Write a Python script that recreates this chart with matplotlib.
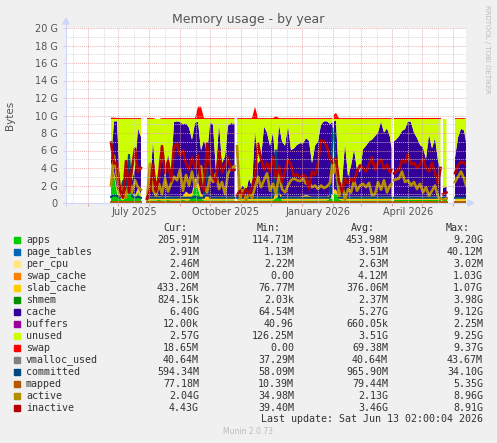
import datetime as dt

import matplotlib
matplotlib.use("Agg")
import matplotlib.pyplot as plt
from matplotlib.patches import Rectangle, Polygon
from matplotlib.lines import Line2D
import numpy as np

nan = np.nan

# x = days since 10 May 2025 (one pixel per day in the munin graph)
# a nan row marks a hole in the data
days = [45, 48, 51, 54, 57, 60, 63, 66, 69, 72, 75, 76,
        81, 84, 87, 90, 93, 96, 99, 102, 105, 108, 111, 114, 117, 120, 123, 126, 129, 132,
        135, 138, 141, 144, 147, 150, 153, 156, 159, 162, 165, 168.5, 169,
        171, 174, 177, 180, 183, 186, 189, 192, 195, 198, 201, 204, 207, 210, 213, 216, 219,
        222, 225, 228, 231, 234, 237, 240, 243, 246, 249, 252, 255, 258, 261, 264, 266.5, 267,
        268, 270, 273, 276, 279, 282, 285, 288, 291, 294, 297, 300, 303, 306, 309, 312, 315,
        318, 321, 324, 325.5, 326,
        328, 330, 333, 336, 339, 342, 345, 348, 351, 354, 357, 360, 363, 366, 369, 372, 374.5, 375,
        377, 380.5, 381,
        389, 392, 395, 398, 400]

# values in GiB
apps = [4.2, 3.2, 1.2, 0.5, 0.3, 0.7, 1.9, 0.8, 0.4, 1.3, 0.6, nan,
        0.25, 0.3, 0.3, 0.3, 0.35, 0.3, 0.3, 0.35, 0.3, 0.3, 0.3, 0.3, 0.35, 0.3, 0.3, 0.7, 2.4, 1.6,
        0.5, 0.3, 0.3, 0.3, 0.3, 0.3, 0.3, 0.3, 0.3, 0.3, 0.3, 0.3, nan,
        0.25, 0.3, 0.3, 0.3, 0.3, 0.3, 0.3, 0.3, 0.3, 0.3, 0.3, 0.3, 0.3, 0.6, 0.8, 0.3, 0.3,
        0.3, 0.3, 0.3, 0.3, 0.3, 0.3, 0.3, 0.3, 0.3, 0.3, 0.3, 0.3, 0.3, 0.3, 0.5, 0.5, nan,
        1.1, 1.1, 0.4, 0.3, 0.3, 0.3, 0.3, 0.3, 0.3, 0.3, 0.3, 0.3, 0.3, 0.3, 0.3, 0.3, 0.3,
        0.3, 0.3, 0.3, 0.3, nan,
        0.3, 0.3, 0.3, 0.3, 0.3, 0.3, 0.3, 0.3, 0.3, 0.3, 0.3, 0.3, 0.3, 0.3, 0.3, 0.3, 0.3, nan,
        0.3, 0.3, nan,
        0.25, 0.25, 0.25, 0.25, 0.2]

slab_cache = [0.40, 0.42, 0.43, 0.43, 0.43, 0.43, 0.43, 0.43, 0.43, 0.43, 0.43, nan,
              0.43, 0.43, 0.43, 0.43, 0.43, 0.43, 0.43, 0.43, 0.43, 0.43, 0.43, 0.43, 0.45, 1.0, 0.7, 0.43, 0.43, 0.9,
              0.6, 0.43, 0.43, 0.43, 0.43, 0.43, 0.43, 0.43, 0.43, 0.43, 0.43, 0.43, nan,
              0.43, 0.43, 0.43, 0.43, 0.43, 0.43, 0.43, 0.43, 0.43, 0.43, 0.43, 0.43, 0.43, 0.43, 0.43, 0.43, 0.43,
              0.43, 0.43, 0.43, 0.43, 0.43, 0.5, 0.6, 0.5, 0.43, 0.43, 0.43, 0.43, 0.43, 0.43, 0.43, 0.43, nan,
              0.43, 0.43, 0.43, 0.43, 0.43, 0.43, 0.43, 0.43, 0.43, 0.43, 0.43, 0.43, 0.43, 0.43, 0.43, 0.43, 0.43,
              0.43, 0.43, 0.43, 0.43, nan,
              0.43, 0.43, 0.43, 0.43, 0.43, 0.43, 0.43, 0.43, 0.43, 0.43, 0.43, 0.43, 0.43, 0.43, 0.43, 0.43, 0.43, nan,
              0.43, 0.43, nan,
              0.43, 0.43, 0.43, 0.43, 0.43]

cache = [0.4, 5.7, 7.7, 1.1, 0.8, 1.9, 2.9, 1.3, 3.2, 6.8, 6.5, nan,
         0.5, 1.1, 6.5, 1.3, 1.8, 4.7, 2.1, 4.9, 2.8, 8.5, 8.6, 8.5, 8.2, 7.8, 7.6, 6.1, 6.3, 6.8,
         4.9, 6.5, 4.8, 8.4, 8.3, 2.8, 8.4, 3.8, 4.6, 8.1, 8.4, 8.3, nan,
         0.3, 0.8, 1.3, 0.5, 2.1, 1.1, 7.6, 3.8, 4.3, 8.0, 7.3, 5.8, 7.3, 3.2, 7.7, 6.3, 5.8,
         8.1, 5.3, 5.5, 5.9, 6.1, 6.0, 6.5, 6.3, 3.8, 5.8, 6.3, 8.2, 8.6, 8.6, 8.1, 8.3, nan,
         7.8, 7.9, 1.7, 1.5, 6.1, 2.3, 3.5, 5.4, 3.1, 2.8, 5.4, 5.8, 6.3, 6.5, 6.9, 7.3, 8.6,
         7.3, 7.8, 6.8, 5.5, nan,
         6.3, 6.5, 6.9, 7.5, 7.7, 8.6, 8.5, 7.3, 6.7, 5.9, 5.6, 4.3, 7.1, 5.5, 6.7, 4.1, 3.0, nan,
         1.0, 1.1, nan,
         4.5, 6.8, 7.8, 7.6, 6.4]

swap = [0.15, 0.15, 0.12, 0.1, 0.1, 0.1, 0.1, 0.1, 0.1, 0.1, 0.1, nan,
        0.1, 0.1, 0.1, 0.0, 0.0, 0.1, 0.1, 0.1, 0.1, 0.1, 0.1, 0.1, 0.1, 0.1, 0.1, 0.1, 0.1, 1.4,
        1.4, 0.1, 0.1, 0.1, 0.1, 0.1, 0.1, 0.1, 0.1, 0.1, 0.1, 0.1, nan,
        0.1, 0.1, 0.1, 0.1, 0.1, 0.1, 1.4, 0.1, 0.1, 0.1, 0.1, 0.1, 0.1, 0.3, 0.1, 0.1, 0.1,
        0.1, 0.1, 0.1, 0.1, 0.1, 0.1, 0.1, 0.1, 0.1, 0.1, 0.1, 0.1, 0.1, 0.1, 0.1, 0.1, nan,
        0.5, 0.7, 0.1, 0.1, 0.1, 0.1, 0.1, 0.1, 0.1, 0.1, 0.1, 0.1, 0.1, 0.1, 0.1, 0.1, 0.1,
        0.1, 0.1, 0.1, 0.1, nan,
        0.1, 0.1, 0.1, 0.1, 0.1, 0.1, 0.1, 0.1, 0.1, 0.1, 0.1, 0.1, 0.1, 0.1, 0.1, 0.1, 0.1, nan,
        0.0, 0.0, nan,
        0.1, 0.1, 0.1, 0.1, 0.05]

committed = [0.7, 0.9, 0.8, 0.6, 2.5, 1.2, 5.5, 0.8, 0.6, 0.7, 0.6, nan,
             0.5, 0.6, 0.6, 0.6, 0.6, 0.6, 0.6, 0.6, 0.6, 0.6, 0.6, 0.6, 0.6, 0.6, 0.6, 0.6, 0.7, 0.6,
             0.6, 0.6, 4.0, 0.6, 0.6, 0.6, 0.6, 0.6, 0.6, 0.6, 0.6, 0.6, nan,
             0.6, 0.6, 0.6, 0.6, 0.6, 0.6, 0.6, 0.6, 0.6, 0.6, 0.6, 0.6, 0.6, 6.0, 0.6, 0.6, 0.6,
             0.6, 0.6, 0.6, 0.6, 0.6, 0.6, 0.6, 0.6, 0.6, 0.6, 0.6, 0.6, 0.6, 0.6, 0.6, 8.5, nan,
             8.0, 3.0, 0.6, 0.6, 0.6, 0.6, 0.6, 0.6, 0.6, 0.6, 0.6, 0.6, 0.6, 0.6, 0.6, 0.6, 0.6,
             0.6, 0.6, 0.6, 0.6, nan,
             0.6, 0.6, 0.6, 0.6, 0.6, 0.6, 0.6, 0.6, 0.6, 0.6, 0.6, 0.6, 0.6, 0.6, 0.6, 0.6, 0.6, nan,
             0.6, 0.6, nan,
             0.6, 0.6, 0.6, 0.6, 0.6]

inactive = [6.9, 4.5, 4.6, 1.5, 0.6, 4.8, 1.2, 4.0, 6.2, 3.5, 4.0, nan,
            0.5, 1.5, 4.4, 1.3, 3.2, 6.5, 3.4, 4.8, 2.5, 6.5, 6.8, 5.4, 6.0, 4.5, 3.8, 5.2, 4.0, 5.5,
            2.0, 1.4, 6.8, 4.2, 3.0, 2.4, 6.0, 3.5, 4.3, 5.2, 3.8, 3.8, nan,
            0.9, 1.4, 0.8, 1.6, 1.0, 1.8, 3.2, 6.8, 5.0, 3.8, 4.6, 3.6, 5.3, 2.8, 4.2, 2.4, 3.6,
            5.0, 4.3, 3.0, 3.3, 2.9, 3.2, 3.0, 1.6, 3.6, 3.2, 4.5, 7.2, 7.0, 6.4, 5.0, 4.6, nan,
            5.0, 5.0, 2.4, 1.3, 2.8, 2.2, 2.8, 2.5, 3.6, 4.3, 4.0, 3.6, 4.4, 5.2, 3.8, 4.6, 5.0,
            3.9, 4.4, 3.5, 3.8, nan,
            3.4, 3.6, 3.8, 4.9, 4.6, 5.6, 4.4, 4.6, 4.0, 4.4, 5.1, 4.0, 3.6, 4.6, 3.4, 2.2, 4.0, nan,
            1.0, 1.2, nan,
            3.4, 4.3, 4.7, 4.6, 4.4]

active = [2.0, 5.4, 3.0, 0.8, 1.8, 0.6, 2.5, 1.2, 2.6, 1.8, 1.5, nan,
          0.4, 4.5, 1.5, 0.8, 2.2, 1.0, 2.8, 1.3, 2.2, 3.0, 2.6, 3.8, 1.4, 3.2, 2.0, 3.6, 1.8, 2.8,
          4.2, 2.0, 1.2, 3.0, 2.4, 3.4, 1.6, 2.4, 1.0, 3.4, 4.0, 4.2, nan,
          6.5, 0.5, 1.5, 0.3, 1.2, 0.6, 1.8, 3.0, 1.8, 2.6, 3.4, 1.4, 2.2, 1.0, 3.3, 1.6, 1.2,
          2.0, 2.6, 2.8, 2.6, 2.5, 2.8, 2.2, 2.4, 1.8, 2.0, 1.6, 2.0, 1.7, 1.9, 2.3, 4.6, nan,
          3.5, 4.8, 0.8, 2.2, 0.4, 1.6, 1.2, 2.6, 1.4, 2.0, 2.2, 1.8, 2.3, 0.9, 1.0, 2.4, 1.5,
          2.6, 1.2, 2.0, 2.2, nan,
          2.6, 2.7, 2.8, 3.6, 2.4, 2.6, 2.0, 2.4, 1.6, 2.2, 1.2, 1.8, 0.8, 1.4, 2.0, 0.7, 0.5, nan,
          0.4, 0.5, nan,
          2.4, 3.0, 3.6, 2.8, 2.0]

# nearly flat series (GiB)
page_tables_level = 0.003
per_cpu_level = 0.0025
swap_cache_level = 0.002
shmem_level = 0.001
buffers_level = 0.00001
mapped_level = 0.08
vmalloc_level = 0.04
mem_total = 9.6

# legend table
legend_names = ["apps", "page_tables", "per_cpu", "swap_cache", "slab_cache", "shmem", "cache",
                "buffers", "unused", "swap", "vmalloc_used", "committed", "mapped", "active", "inactive"]
legend_colors = ["#00CC00", "#0066B3", "#FFE680", "#FF8000", "#FFCC00", "#008F00", "#330099",
                 "#990099", "#CCFF00", "#FF0000", "#808080", "#00487D", "#B35A00", "#B38F00", "#B30000"]
cur_vals = ["205.91M", "2.91M", "2.46M", "2.00M", "433.26M", "824.15k", "6.40G", "12.00k",
            "2.57G", "18.65M", "40.64M", "594.34M", "77.18M", "2.04G", "4.43G"]
min_vals = ["114.71M", "1.13M", "2.22M", "0.00", "76.77M", "2.03k", "64.54M", "40.96",
            "126.25M", "0.00", "37.29M", "58.09M", "10.39M", "34.98M", "39.40M"]
avg_vals = ["453.98M", "3.51M", "2.63M", "4.12M", "376.06M", "2.37M", "5.27G", "660.05k",
            "3.51G", "69.38M", "40.64M", "965.90M", "79.44M", "2.13G", "3.46G"]
max_vals = ["9.20G", "40.12M", "3.02M", "1.03G", "1.07G", "3.98G", "9.12G", "2.25M",
            "9.25G", "9.37G", "43.67M", "34.10G", "5.35G", "8.96G", "8.91G"]

cols = {k: np.array(v, dtype=float) for k, v in dict(
    days=days, apps=apps, slab=slab_cache, cache=cache, swap=swap,
    committed=committed, inactive=inactive, active=active).items()}
n = len(days)
for k, v in cols.items():
    assert len(v) == n, (k, len(v), n)

x = cols["days"]
ok = ~np.isnan(cols["apps"])
flat = lambda lev: np.where(ok, lev, nan)

layers = [
    (cols["apps"], "#00CC00"),
    (flat(page_tables_level), "#0066B3"),
    (flat(per_cpu_level), "#FFE680"),
    (flat(swap_cache_level), "#FF8000"),
    (cols["slab"], "#FFCC00"),
    (flat(shmem_level), "#008F00"),
    (cols["cache"], "#330099"),
    (flat(buffers_level), "#990099"),
]
used = sum(l for l, _ in layers)
layers.append((mem_total - used, "#CCFF00"))   # unused
layers.append((cols["swap"], "#FF0000"))

W, H = 497, 443
fig = plt.figure(figsize=(W / 100, H / 100), dpi=100, facecolor="#F0F0F0")
ax = fig.add_axes([66 / W, 1 - 203 / H, 400 / W, 175 / H])
ax.set_facecolor("white")
ax.set_xlim(0, 400)
ax.set_ylim(0, 20)

bottom = np.where(ok, 0.0, nan)
for vals, col in layers:
    top = bottom + vals
    ax.fill_between(x, bottom, top, color=col, lw=0, zorder=2)
    bottom = top

ax.plot(x, flat(vmalloc_level), color="#808080", lw=1.4, zorder=3)
ax.plot(x, cols["committed"], color="#00487D", lw=1.5, zorder=3)
ax.plot(x, flat(mapped_level), color="#B35A00", lw=1.4, zorder=3)
ax.plot(x, cols["active"], color="#B38F00", lw=1.9, zorder=3)
ax.plot(x, cols["inactive"], color="#B30000", lw=1.9, zorder=3)

# grid (rrdtool draws it over the graph)
start = dt.date(2025, 5, 10)
month_starts = []
for y, m in [(2025, 5), (2025, 6), (2025, 7), (2025, 8), (2025, 9), (2025, 10), (2025, 11),
             (2025, 12), (2026, 1), (2026, 2), (2026, 3), (2026, 4), (2026, 5), (2026, 6)]:
    month_starts.append((dt.date(y, m, 1) - start).days)
mgrid = "#E8A0A0"
grid = "#D0D0D0"
for i in range(1, 21):
    ax.axhline(i, color=mgrid if i % 2 == 0 else grid, lw=0.7,
               linestyle=(0, (1, 1)), zorder=4, alpha=0.8)
for d in month_starts:
    if 0 < d < 400:
        ax.axvline(d, color=mgrid, lw=0.7, linestyle=(0, (1, 1)), zorder=4, alpha=0.8)
    if 0 < d + 16 < 400:
        ax.axvline(d + 16, color=grid, lw=0.7, linestyle=(0, (1, 1)), zorder=4, alpha=0.8)

for s in ax.spines.values():
    s.set_visible(False)
ax.set_yticks(range(0, 21, 2))
ax.set_yticklabels(["0"] + ["%d G" % v for v in range(2, 21, 2)])
ax.tick_params(axis="y", length=2, color="#CFD6F8", pad=4, labelsize=7, labelcolor="#555555")
ax.set_xticks([d for d in month_starts if 0 < d < 400])
ax.set_xticklabels([])
ax.tick_params(axis="x", length=2, color=mgrid)

label_days = [68, 160, 252, 342]
label_text = ["July 2025", "October 2025", "January 2026", "April 2026"]
for d, t in zip(label_days, label_text):
    fig.text((66 + d) / W, 1 - 212 / H, t, ha="center", va="center", fontsize=7, color="#555555")

# axes with arrows
axis_col = "#CFD6F8"
fig.add_artist(Line2D([66 / W, 66 / W], [1 - 206 / H, 1 - 22 / H], color=axis_col, lw=0.8))
fig.add_artist(Line2D([63 / W, 469 / W], [1 - 203 / H, 1 - 203 / H], color=axis_col, lw=0.8))
fig.add_artist(Polygon([[63 / W, 1 - 24 / H], [69 / W, 1 - 24 / H], [66 / W, 1 - 18 / H]],
                       closed=True, color=axis_col, transform=fig.transFigure))
fig.add_artist(Polygon([[468 / W, 1 - 200 / H], [468 / W, 1 - 206 / H], [474 / W, 1 - 203 / H]],
                       closed=True, color=axis_col, transform=fig.transFigure))

fig.text(248 / W, 1 - 19 / H, "Memory usage - by year", ha="center", va="center",
         fontsize=9, color="#555555")
fig.text(10 / W, 1 - 115 / H, "Bytes", rotation=90, ha="center", va="center",
         fontsize=7.5, color="#555555")
fig.text(487 / W, 1 - 5 / H, "RRDTOOL / TOBI OETIKER", rotation=270, ha="center", va="top",
         fontsize=5, color="#BBBBBB")

mono = dict(family="DejaVu Sans Mono", fontsize=7.2, color="#333333", va="center")
for xr, h in zip([187, 281, 375, 470], ["Cur:", "Min:", "Avg:", "Max:"]):
    fig.text(xr / W, 1 - 228 / H, h, ha="right", **mono)
for i, name in enumerate(legend_names):
    yy = 240 + i * 11.98
    fig.add_artist(Rectangle((14 / W, 1 - (yy + 3) / H), 6 / W, 6 / H,
                             color=legend_colors[i], transform=fig.transFigure))
    fig.text(26 / W, 1 - yy / H, name, ha="left", **mono)
    for xr, v in zip([199, 294, 388, 483], [cur_vals[i], min_vals[i], avg_vals[i], max_vals[i]]):
        fig.text(xr / W, 1 - yy / H, v, ha="right", **mono)
fig.text(483 / W, 1 - 419.5 / H, "Last update: Sat Jun 13 02:00:04 2026", ha="right", **mono)
fig.text(248 / W, 1 - 431 / H, "Munin 2.0.73", ha="center", va="center", fontsize=5.5,
         color="#BBBBBB")

fig.savefig("out.png", dpi=100, facecolor=fig.get_facecolor())
